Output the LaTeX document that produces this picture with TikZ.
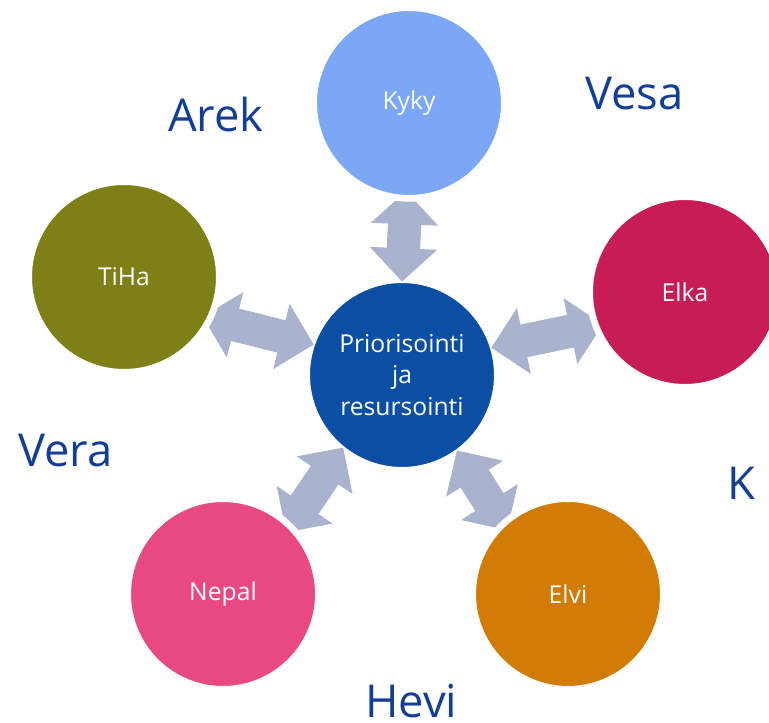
\documentclass[tikz,border=0pt]{standalone}
\usepackage{fontspec}
\setmainfont{Open Sans}
\usetikzlibrary{arrows.meta,backgrounds}
\definecolor{core}{RGB}{10,79,163}
\definecolor{kykyc}{RGB}{123,167,244}
\definecolor{elkac}{RGB}{200,28,85}
\definecolor{tihac}{RGB}{127,127,24}
\definecolor{nepalc}{RGB}{232,73,128}
\definecolor{elvic}{RGB}{210,124,6}
\definecolor{arr}{RGB}{170,179,206}
\definecolor{navy}{RGB}{20,62,150}

\begin{document}
\begin{tikzpicture}[x=0.75pt, y=-0.75pt,
	b/.style={circle, draw=white, line width=1pt, minimum size=139pt, inner sep=0pt, text=white, align=center, font=\fontsize{18.5}{23.6}\selectfont},
	o/.style={b, preaction={draw=white, line width=9pt}},
	lbl/.style={anchor=base west, inner sep=0pt, text=navy, font=\fontsize{34}{40}\selectfont},
	a/.style={draw=arr, line width=25pt, {Triangle[width=49pt, length=25pt]}-{Triangle[width=49pt, length=25pt]}, shorten >=-4pt}]
	\useasboundingbox (0,0) rectangle (769,723);

	\node[b, fill=core] (c) at (402,375) {Priorisointi\\ja\\resursointi};
	\node[o, fill=kykyc] (kyky) at (409,103) {Kyky};
	\node[o, fill=elkac] (elka) at (685,292) {Elka};
	\node[o, fill=tihac] (tiha) at (124,277) {TiHa};
	\node[o, fill=nepalc] (nepal) at (223,594) {Nepal};
	\node[o, fill=elvic] (elvi) at (568,594) {Elvi};

	\begin{scope}[on background layer]
		\path[a] (c.90) -- (kyky.268);
		\path[a] (c.161) -- (tiha.-26);
		\path[a] (c.17) -- (elka.201);
		\path[a] (c.231) -- (nepal.45);
		\path[a] (c.306) -- (elvi.133);
	\end{scope}

	\node[lbl] (arek) at (168,132) {Arek};
	\node[lbl] (vesa) at (585,110) {Vesa};
	\node[lbl] (vera) at (18,467) {Vera};
	\node[lbl] (k) at (727,500) {K};
	\node[lbl] (hevi) at (365,718) {Hevi};
\end{tikzpicture}
\end{document}
